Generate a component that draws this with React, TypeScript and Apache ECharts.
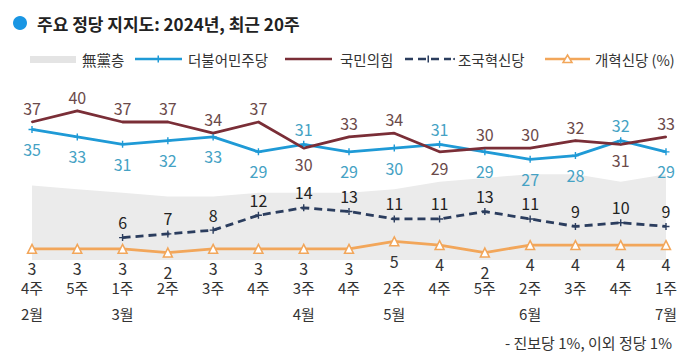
import React, { useEffect, useRef } from "react";
import * as echarts from "echarts";

const weeks = ["4주", "5주", "1주", "2주", "3주", "4주", "3주", "4주", "2주", "4주", "5주", "2주", "3주", "4주", "1주"];
const months = ["2월", "", "3월", "", "", "", "4월", "", "5월", "", "", "6월", "", "", "7월"];
const independents = [20, 19, 18, 17, 17, 18, 18, 18, 19, 21, 22, 23, 23, 21, 23];
const democratic = [35, 33, 31, 32, 33, 29, 31, 29, 30, 31, 29, 27, 28, 32, 29];
const peoplePower = [37, 40, 37, 37, 34, 37, 30, 33, 34, 29, 30, 30, 32, 31, 33];
const rebuilding = [null, null, 6, 7, 8, 12, 14, 13, 11, 11, 13, 11, 9, 10, 9];
const reform = [3, 3, 3, 2, 3, 3, 3, 3, 5, 4, 2, 4, 4, 4, 4];

const FONT = "'Noto Sans CJK KR', 'Noto Sans', sans-serif";
const C_GRAY = "#ebebeb";
const C_BLUE = "#1f9ad6";
const C_RED = "#7a2e37";
const C_NAVY = "#2b3d5e";
const C_ORANGE = "#f2a65a";
const PLUS = "path://M4,0H6V4H10V6H6V10H4V6H0V4H4Z";

export default function App() {
  const ref = useRef<HTMLDivElement>(null);
  useEffect(() => {
    if (!ref.current) return;
    const chart = echarts.init(ref.current, undefined, { renderer: "svg" });

    const blueData = democratic.map((v, i) => ({
      value: v,
      label: v > peoplePower[i] ? { position: "top", distance: 4 } : { position: "bottom", distance: 8 },
    }));
    const redData = peoplePower.map((v, i) => ({
      value: v,
      label: v > democratic[i] ? { position: "top", distance: 5 } : { position: "bottom", distance: 7 },
    }));

    const legendY = 59;
    const legendText = (x: number, text: string) => ({
      type: "text",
      x,
      y: legendY,
      style: { text, fontSize: 14.5, fontFamily: FONT, fill: "#333", verticalAlign: "middle" },
    });

    chart.setOption({
      animation: false,
      textStyle: { fontFamily: FONT },
      grid: { left: 32, right: 33, top: 73.5, bottom: 97, containLabel: false },
      xAxis: {
        type: "category",
        data: weeks,
        boundaryGap: false,
        axisLine: { show: false },
        axisTick: { show: false },
        splitLine: { show: false },
        axisLabel: {
          interval: 0,
          margin: 17,
          formatter: (val: string, idx: number) => `{w|${val}}\n{m|${months[idx] || " "}}`,
          rich: {
            w: { fontSize: 15, lineHeight: 20, color: "#333", fontFamily: FONT },
            m: { fontSize: 15, lineHeight: 32, color: "#333", fontFamily: FONT },
          },
        },
      },
      yAxis: { type: "value", min: 0, max: 50, show: false, splitLine: { show: false } },
      series: [
        {
          name: "無黨층",
          type: "line",
          data: independents,
          symbol: "none",
          lineStyle: { width: 0 },
          areaStyle: { color: C_GRAY, opacity: 1 },
          z: 1,
        },
        {
          name: "개혁신당",
          type: "line",
          data: reform,
          symbol: "triangle",
          symbolSize: 9,
          lineStyle: { color: C_ORANGE, width: 2.8 },
          itemStyle: { color: "#fff", borderColor: C_ORANGE, borderWidth: 1.5 },
          label: { show: true, position: "bottom", distance: 6, fontSize: 16, lineHeight: 16, color: "#333", fontFamily: FONT },
          z: 3,
        },
        {
          name: "조국혁신당",
          type: "line",
          data: rebuilding,
          symbol: PLUS,
          symbolSize: 7,
          lineStyle: { color: C_NAVY, width: 2.8, type: [8, 5] },
          itemStyle: { color: C_NAVY },
          label: { show: true, position: "top", distance: 4, fontSize: 16, color: "#222", fontFamily: FONT },
          z: 4,
        },
        {
          name: "더불어민주당",
          type: "line",
          data: blueData,
          symbol: PLUS,
          symbolSize: 7,
          lineStyle: { color: C_BLUE, width: 2.8 },
          itemStyle: { color: C_BLUE },
          label: { show: true, fontSize: 16, color: "#45a2c4", fontFamily: FONT },
          z: 5,
        },
        {
          name: "국민의힘",
          type: "line",
          data: redData,
          symbol: "circle",
          symbolSize: 2,
          showSymbol: true,
          lineStyle: { color: C_RED, width: 2.8 },
          itemStyle: { color: C_RED },
          label: { show: true, fontSize: 16, color: "#6b4a4a", fontFamily: FONT },
          z: 5,
        },
      ],
      graphic: [
        { type: "circle", shape: { cx: 20, cy: 23, r: 7 }, style: { fill: "#1a96e3" } },
        {
          type: "text",
          x: 37,
          y: 23,
          style: {
            text: "주요 정당 지지도: 2024년, 최근 20주",
            fontSize: 17,
            fontWeight: "bold",
            fontFamily: FONT,
            fill: "#222",
            verticalAlign: "middle",
          },
        },
        { type: "rect", shape: { x: 30, y: 56, width: 46, height: 7 }, style: { fill: "#e4e4e4" } },
        legendText(82, "無黨층"),
        { type: "line", shape: { x1: 135, y1: legendY, x2: 182, y2: legendY }, style: { stroke: C_BLUE, lineWidth: 2.5 } },
        { type: "rect", shape: { x: 157.5, y: legendY - 3.5, width: 1.5, height: 7 }, style: { fill: C_BLUE } },
        legendText(188, "더불어민주당"),
        { type: "line", shape: { x1: 285, y1: legendY, x2: 332, y2: legendY }, style: { stroke: C_RED, lineWidth: 2.5 } },
        legendText(340, "국민의힘"),
        {
          type: "line",
          shape: { x1: 405, y1: legendY, x2: 451, y2: legendY },
          style: { stroke: C_NAVY, lineWidth: 2.5, lineDash: [8, 5] },
        },
        { type: "rect", shape: { x: 427.5, y: legendY - 3.5, width: 1.5, height: 7 }, style: { fill: C_NAVY } },
        { type: "circle", shape: { cx: 454, cy: legendY, r: 1 }, style: { fill: C_NAVY } },
        legendText(458, "조국혁신당"),
        { type: "line", shape: { x1: 545, y1: legendY, x2: 590, y2: legendY }, style: { stroke: C_ORANGE, lineWidth: 2.5 } },
        {
          type: "polygon",
          shape: { points: [[567.5, legendY - 4], [572, legendY + 3.5], [563, legendY + 3.5]] },
          style: { fill: "#fff", stroke: C_ORANGE, lineWidth: 1.5 },
        },
        legendText(595, "개혁신당 (%)"),
        {
          type: "text",
          x: 672,
          y: 342,
          style: {
            text: "- 진보당 1%, 이외 정당 1%",
            fontSize: 15,
            fontFamily: FONT,
            fill: "#333",
            align: "right",
            verticalAlign: "middle",
          },
        },
      ],
    });
    return () => chart.dispose();
  }, []);
  return <div ref={ref} style={{ width: 699, height: 357, position: "absolute", left: 0, top: 0, background: "#fff" }} />;
}
